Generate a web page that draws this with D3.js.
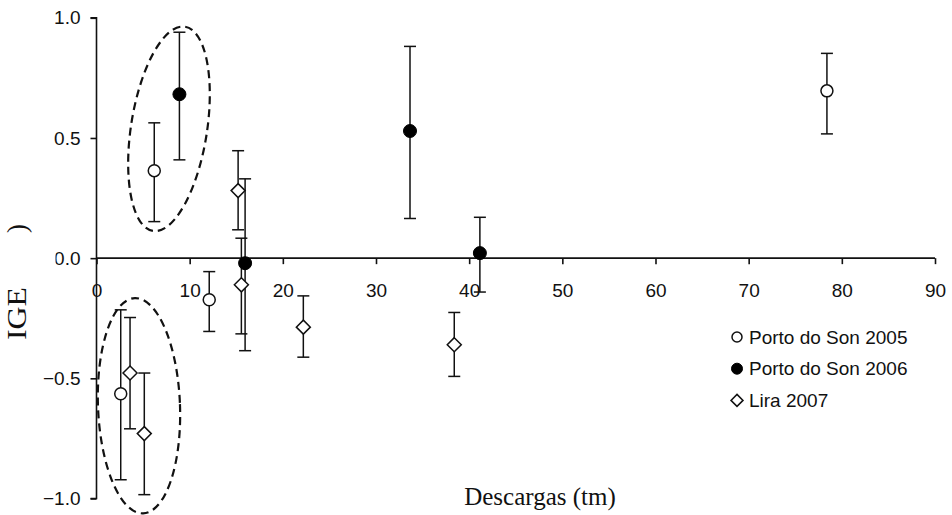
<!DOCTYPE html>
<html>
<head>
<meta charset="utf-8">
<script src="https://cdn.jsdelivr.net/npm/d3@7"></script>
<style>
  html, body { margin: 0; padding: 0; background: #fff; }
  svg { display: block; }
  .tick text { font-family: "Liberation Sans", Arial, sans-serif; font-size: 19px; fill: #111; }
</style>
</head>
<body>
<svg id="chart" width="952" height="515"></svg>
<script>
// Landings (tm) vs. IGE, with error bars, three sampling campaigns
const seriesNames = ["Porto do Son 2005", "Porto do Son 2006", "Lira 2007"];

const son2005X  = [6.2, 12.1, 2.6, 78.4];
const son2005Y  = [0.364, -0.173, -0.564, 0.696];
const son2005Hi = [0.563, -0.056, -0.215, 0.852];
const son2005Lo = [0.152, -0.305, -0.922, 0.517];

const son2006X  = [8.9, 15.95, 33.65, 41.15];
const son2006Y  = [0.682, -0.021, 0.529, 0.021];
const son2006Hi = [0.940, 0.330, 0.881, 0.170];
const son2006Lo = [0.409, -0.385, 0.165, -0.141];

const lira2007X  = [15.2, 15.55, 22.2, 3.6, 5.13, 38.4];
const lira2007Y  = [0.281, -0.111, -0.287, -0.478, -0.730, -0.360];
const lira2007Hi = [0.447, 0.083, -0.157, -0.247, -0.478, -0.226];
const lira2007Lo = [0.118, -0.315, -0.412, -0.710, -0.984, -0.492];

const xTicks = [0, 10, 20, 30, 40, 50, 60, 70, 80, 90];
const yTicks = [-1.0, -0.5, 0.0, 0.5, 1.0];

// Dashed groupings: centre, radii (data units), tilt in degrees
const groupCx = [7.78, 4.56];
const groupCy = [0.538, -0.614];
const groupRx = [4.08, 4.40];
const groupRy = [0.430, 0.448];
const groupTilt = [8.9, -2.2];

const svg = d3.select("#chart");
const x = d3.scaleLinear().domain([0, 90]).range([96.5, 935]);
const y = d3.scaleLinear().domain([-1, 1]).range([498.5, 17.8]);

// Axes
const yAxis = svg.append("g")
  .attr("transform", `translate(${x(0)},0)`)
  .call(d3.axisLeft(y).tickValues(yTicks).tickFormat(d3.format(".1f")).tickSize(6).tickPadding(10));
const xAxis = svg.append("g")
  .attr("transform", `translate(0,${y(0)})`)
  .call(d3.axisBottom(x).tickValues(xTicks).tickFormat(d3.format("d")).tickSize(6).tickPadding(19));
[yAxis, xAxis].forEach(g => {
  g.select(".domain").attr("stroke", "#111").attr("stroke-width", 1.6);
  g.selectAll(".tick line").attr("stroke", "#111").attr("stroke-width", 1.6);
});
yAxis.select(".domain").attr("d", `M-6,${y(1)}H0V${y(-1)}H-6`);
xAxis.select(".domain").attr("d", `M${x(0)},0H${x(90)}`);

// white box partly masking the "0.0" label
svg.append("rect").attr("x", 34).attr("y", 244).attr("width", 21.5).attr("height", 28).attr("fill", "#fff");

// Axis titles
const serif = "'Liberation Serif', 'Times New Roman', serif";
svg.append("text")
  .attr("transform", `translate(26,340) rotate(-90)`)
  .attr("font-family", serif)
  .attr("font-size", 27).attr("fill", "#111")
  .attr("textLength", 53).attr("lengthAdjust", "spacingAndGlyphs")
  .text("IGE");
svg.append("text")
  .attr("transform", `translate(26,233) rotate(-90)`)
  .attr("font-family", serif)
  .attr("font-size", 27).attr("fill", "#111")
  .text(")");
svg.append("text")
  .attr("x", 540).attr("y", 505)
  .attr("text-anchor", "middle")
  .attr("font-family", serif)
  .attr("font-size", 25).attr("fill", "#111")
  .text("Descargas (tm)");

// Dashed ellipses
groupCx.forEach((cx, i) => {
  svg.append("ellipse")
    .attr("cx", 0).attr("cy", 0)
    .attr("rx", x(groupRx[i]) - x(0))
    .attr("ry", y(0) - y(groupRy[i]))
    .attr("transform", `translate(${x(cx)},${y(groupCy[i])}) rotate(${groupTilt[i]})`)
    .attr("fill", "none").attr("stroke", "#111")
    .attr("stroke-width", 2.2).attr("stroke-dasharray", "8,5");
});

// Error bars and markers
const cap = 6;
function errorBars(xs, his, los) {
  const g = svg.append("g").attr("stroke", "#111").attr("stroke-width", 1.5).attr("fill", "none");
  xs.forEach((v, i) => {
    const px = x(v);
    g.append("line").attr("x1", px).attr("x2", px).attr("y1", y(his[i])).attr("y2", y(los[i]));
    g.append("line").attr("x1", px - cap).attr("x2", px + cap).attr("y1", y(his[i])).attr("y2", y(his[i]));
    g.append("line").attr("x1", px - cap).attr("x2", px + cap).attr("y1", y(los[i])).attr("y2", y(los[i]));
  });
}
errorBars(son2005X, son2005Hi, son2005Lo);
errorBars(son2006X, son2006Hi, son2006Lo);
errorBars(lira2007X, lira2007Hi, lira2007Lo);

const diamond = r => `M0,${-r}L${r},0L0,${r}L${-r},0Z`;

function drawMarker(g, kind, px, py, r) {
  if (kind === 0) {
    g.append("circle").attr("cx", px).attr("cy", py).attr("r", r)
      .attr("fill", "#fff").attr("stroke", "#111").attr("stroke-width", 1.5);
  } else if (kind === 1) {
    g.append("circle").attr("cx", px).attr("cy", py).attr("r", r + 0.5)
      .attr("fill", "#000").attr("stroke", "#000").attr("stroke-width", 1);
  } else {
    g.append("path").attr("d", diamond(r + 1)).attr("transform", `translate(${px},${py})`)
      .attr("fill", "#fff").attr("stroke", "#111").attr("stroke-width", 1.5);
  }
}

const marks = svg.append("g");
son2005X.forEach((v, i) => drawMarker(marks, 0, x(v), y(son2005Y[i]), 6));
son2006X.forEach((v, i) => drawMarker(marks, 1, x(v), y(son2006Y[i]), 6));
lira2007X.forEach((v, i) => drawMarker(marks, 2, x(v), y(lira2007Y[i]), 6));

// Legend
const legend = svg.append("g").attr("transform", "translate(737,337)");
seriesNames.forEach((name, i) => {
  const row = legend.append("g").attr("transform", `translate(0,${i * 31.7})`);
  drawMarker(row, i, 0, 0, 5);
  row.append("text").attr("x", 12).attr("y", 0).attr("dy", "0.35em")
    .attr("font-family", "'Liberation Sans', Arial, sans-serif")
    .attr("font-size", 19).attr("fill", "#111")
    .text(name);
});
</script>
</body>
</html>
